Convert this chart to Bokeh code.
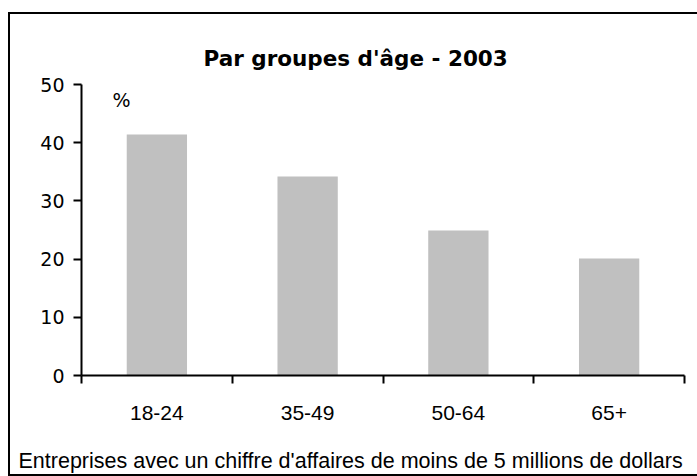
from bokeh.plotting import figure
from bokeh.models import Range1d, FixedTicker, Label, Title, ColumnDataSource
from bokeh.embed import file_html
from bokeh.resources import INLINE

categories = ["18-24", "35-49", "50-64", "65+"]
values = [41.4, 34.2, 24.9, 20.1]
y_ticks = [0, 10, 20, 30, 40, 50]
title_text = "Par groupes d'âge - 2003"
unit_text = "%"
footer_text = "Entreprises avec un chiffre d'affaires de moins de 5 millions de dollars"

x_pos = [i + 0.5 for i in range(len(categories))]
src = ColumnDataSource(dict(x=x_pos, top=values, cat=categories))

p = figure(width=689, height=464, output_backend="svg", toolbar_location=None,
           x_range=Range1d(0, len(categories)), y_range=Range1d(0, 50),
           min_border_left=73, min_border_right=13, min_border_top=72,
           min_border_bottom=101, title=title_text)
p.margin = (12, 0, 0, 8)
p.styles = {"box-shadow": "inset 2px 0 0 0 #000, inset 0 2px 0 0 #000, inset 0 -2px 0 0 #000"}
p.grid.visible = False
p.outline_line_color = None
p.background_fill_color = None
p.border_fill_color = None

p.vbar(x="x", top="top", bottom=0, width=0.4, source=src,
       fill_color="#c0c0c0", line_color=None)

# chart title
p.title.align = "left"
p.title.offset = 122
p.title.standoff = 28
p.title.text_font = "DejaVu Sans"
p.title.text_font_size = "21.5px"
p.title.text_font_style = "bold"
p.title.text_color = "black"

# x axis: labels at category centres, ticks at category boundaries
xa = p.xaxis[0]
xa.ticker = FixedTicker(ticks=x_pos, minor_ticks=list(range(len(categories) + 1)))
xa.major_label_overrides = {x: c for x, c in zip(x_pos, categories)}
xa.major_tick_line_color = None
xa.major_tick_out = 0
xa.major_tick_in = 0
xa.minor_tick_out = 8
xa.minor_tick_in = 0
xa.minor_tick_line_color = "black"
xa.minor_tick_line_width = 2
xa.axis_line_color = "black"
xa.axis_line_width = 2
xa.major_label_standoff = 22
xa.major_label_text_font = "Liberation Sans"
xa.major_label_text_font_size = "21px"
xa.major_label_text_color = "black"
# blank axis label used only as vertical spacing above the footer
xa.axis_label = " "
xa.axis_label_text_font_size = "2px"
xa.axis_label_standoff = 16

ya = p.yaxis[0]
ya.ticker = FixedTicker(ticks=y_ticks, minor_ticks=[])
ya.major_tick_out = 8
ya.major_tick_in = 0
ya.major_tick_line_color = "black"
ya.major_tick_line_width = 2
ya.minor_tick_line_color = None
ya.axis_line_color = "black"
ya.axis_line_width = 2
ya.major_label_standoff = 9
ya.major_label_text_font = "DejaVu Sans"
ya.major_label_text_font_size = "19px"
ya.major_label_text_color = "black"

p.add_layout(Label(x=0.265, y=47.4, text=unit_text,
                   text_align="center", text_baseline="middle",
                   text_font="DejaVu Sans", text_font_size="19px",
                   text_color="black"))

p.add_layout(Title(text=footer_text, align="left", offset=-63, standoff=6,
                   text_font="Liberation Sans", text_font_size="21.5px",
                   text_font_style="normal", text_color="black"), "below")

open("out.html", "w").write(file_html(p, INLINE))
